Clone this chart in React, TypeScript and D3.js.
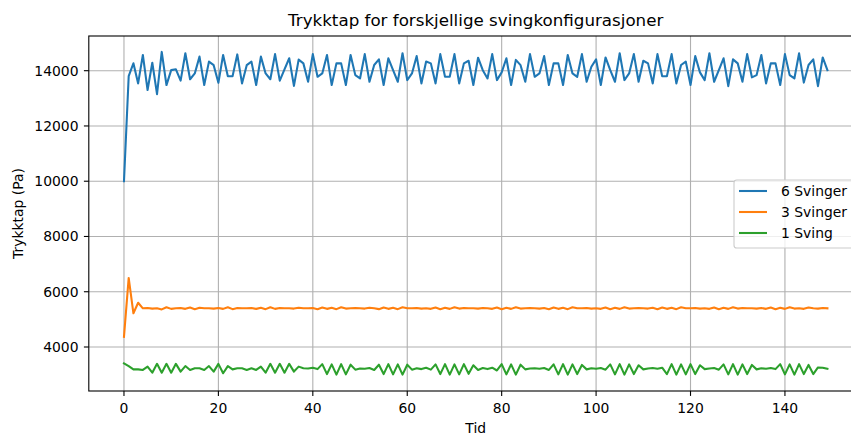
import React from "react";
import * as d3 from "d3";

const series6: number[] = [
  10000, 13800, 14270, 13540, 14570, 13300, 14290, 13150, 14680, 13480,
  14020, 14050, 13640, 14630, 13690, 13900, 14510, 13480, 14330, 14200,
  13560, 14570, 13800, 13800, 14590, 13540, 14200, 14330, 13480, 14510,
  13900, 13690, 14600, 13640, 14050, 14450, 13450, 14400, 14265, 13600,
  14600, 13780, 13900, 14570, 13480, 14265, 14265, 13480, 14570, 13840,
  13720, 14600, 13600, 14205, 14410, 13480, 14450, 14020, 13600, 14630,
  13660, 13900, 14530, 13540, 14330, 14265, 13540, 14600, 13780, 13780,
  14600, 13540, 14265, 14360, 13480, 14470, 14020, 13720, 14600, 13660,
  13940, 14450, 13480, 14390, 14200, 13600, 14600, 13780, 13900, 14530,
  13480, 14265, 14265, 13480, 14570, 13900, 13780, 14600, 13600, 14145,
  14410, 13480, 14480, 14020, 13600, 14630, 13660, 13900, 14600, 13600,
  14360, 14265, 13540, 14600, 13800, 13800, 14600, 13540, 14205, 14330,
  13480, 14530, 13940, 13660, 14630, 13600, 14020, 14450, 13440, 14410,
  14265, 13600, 14600, 13760, 13840, 14570, 13540, 14265, 14265, 13480,
  14600, 13840, 13720, 14630, 13570, 14205, 14410, 13440, 14480, 14020,
];

const series3: number[] = [
  4370, 6500, 5220, 5600, 5400, 5410, 5390, 5400, 5360, 5440,
  5380, 5400, 5410, 5380, 5430, 5370, 5420, 5400, 5400, 5390,
  5410, 5380, 5440, 5370, 5410, 5400, 5400, 5410, 5380, 5420,
  5370, 5440, 5380, 5410, 5400, 5400, 5390, 5420, 5400, 5400,
  5410, 5370, 5430, 5380, 5420, 5370, 5440, 5390, 5400, 5410,
  5400, 5390, 5420, 5400, 5370, 5430, 5380, 5420, 5370, 5440,
  5400, 5400, 5410, 5390, 5400, 5380, 5430, 5370, 5420, 5380,
  5440, 5390, 5410, 5400, 5400, 5390, 5410, 5400, 5380, 5430,
  5370, 5420, 5380, 5440, 5390, 5400, 5410, 5400, 5390, 5410,
  5370, 5430, 5380, 5420, 5370, 5440, 5400, 5400, 5410, 5390,
  5400, 5380, 5430, 5370, 5420, 5380, 5440, 5390, 5400, 5410,
  5400, 5390, 5420, 5370, 5430, 5380, 5420, 5370, 5440, 5400,
  5400, 5410, 5390, 5400, 5380, 5430, 5370, 5420, 5380, 5440,
  5390, 5410, 5400, 5400, 5390, 5410, 5380, 5430, 5370, 5420,
  5380, 5440, 5390, 5400, 5380, 5430, 5400, 5390, 5410, 5400,
];

const series1: number[] = [
  3410, 3310, 3190, 3190, 3170, 3290, 3070, 3390, 3070, 3390,
  3070, 3390, 3110, 3310, 3170, 3230, 3230, 3170, 3310, 3110,
  3390, 3050, 3310, 3190, 3230, 3230, 3170, 3230, 3170, 3290,
  3070, 3390, 3070, 3390, 3070, 3390, 3110, 3290, 3230, 3220,
  3250, 3200, 3380, 3020, 3370, 3000, 3380, 3010, 3360, 3180,
  3220, 3210, 3240, 3170, 3360, 3020, 3380, 3010, 3370, 3000,
  3360, 3180, 3230, 3200, 3250, 3180, 3370, 3020, 3380, 3000,
  3370, 3010, 3380, 3030, 3340, 3170, 3240, 3200, 3250, 3150,
  3380, 3010, 3370, 3000, 3360, 3190, 3220, 3230, 3210, 3240,
  3170, 3370, 3010, 3380, 3000, 3370, 3020, 3350, 3190, 3230,
  3210, 3240, 3180, 3370, 3010, 3380, 3000, 3370, 3020, 3340,
  3190, 3220, 3240, 3210, 3250, 3020, 3380, 3000, 3370, 3010,
  3380, 3020, 3340, 3200, 3220, 3240, 3180, 3370, 3010, 3380,
  3000, 3370, 3020, 3350, 3190, 3230, 3210, 3240, 3200, 3380,
  3010, 3370, 3000, 3380, 3020, 3350, 3020, 3260, 3250, 3210,
];

const seriesNames = ["6 Svinger", "3 Svinger", "1 Sving"];
const seriesColors = ["#1f77b4", "#ff7f0e", "#2ca02c"];
const xTicks = [0, 20, 40, 60, 80, 100, 120, 140];
const yTicks = [4000, 6000, 8000, 10000, 12000, 14000];

const W = 851;
const H = 435;
const FONT = "'DejaVu Sans', sans-serif";

export default function App() {
  const left = 88.8;
  const right = 862.6;
  const top = 36;
  const bottom = 391;

  const x = d3.scaleLinear().domain([-7.45, 156.45]).range([left, right]);
  const y = d3.scaleLinear().domain([2407.5, 15266.7]).range([bottom, 35.7]);

  const allSeries = [series6, series3, series1];
  const line = d3
    .line<number>()
    .x((_, i) => x(i))
    .y((d) => y(d));

  const legX = 734;
  const legY = 180;
  const rowYs = [191, 212, 233];

  return (
    <div style={{ position: "fixed", left: 0, top: 0, width: W, height: H, background: "#fff" }}>
      <svg width={W} height={H} style={{ display: "block" }} fontFamily={FONT}>
        <defs>
          <clipPath id="plotclip">
            <rect x={left} y={top} width={right - left} height={bottom - top} />
          </clipPath>
        </defs>
        <rect x={0} y={0} width={W} height={H} fill="#fff" />
        {/* grid */}
        {xTicks.map((t) => (
          <line key={"gx" + t} x1={x(t)} x2={x(t)} y1={top} y2={bottom} stroke="#b0b0b0" strokeWidth={1.1} />
        ))}
        {yTicks.map((t) => (
          <line key={"gy" + t} x1={left} x2={right} y1={y(t)} y2={y(t)} stroke="#b0b0b0" strokeWidth={1.1} />
        ))}
        {/* lines */}
        <g clipPath="url(#plotclip)">
          {allSeries.map((s, k) => (
            <path
              key={"s" + k}
              d={line(s) || ""}
              fill="none"
              stroke={seriesColors[k]}
              strokeWidth={2.08}
              strokeLinejoin="round"
              strokeLinecap="square"
            />
          ))}
        </g>
        {/* spines */}
        <rect x={left} y={top} width={right - left} height={bottom - top} fill="none" stroke="#000" strokeWidth={1.1} />
        {/* x ticks */}
        {xTicks.map((t) => (
          <g key={"xt" + t}>
            <line x1={x(t)} x2={x(t)} y1={bottom} y2={bottom + 4.9} stroke="#000" strokeWidth={1.1} />
            <text x={x(t)} y={412.5} textAnchor="middle" fontSize={13.9} fill="#000">
              {t}
            </text>
          </g>
        ))}
        {/* y ticks */}
        {yTicks.map((t) => (
          <g key={"yt" + t}>
            <line x1={left - 4.9} x2={left} y1={y(t)} y2={y(t)} stroke="#000" strokeWidth={1.1} />
            <text x={78.5} y={y(t)} dy="0.36em" textAnchor="end" fontSize={13.9} fill="#000">
              {t}
            </text>
          </g>
        ))}
        {/* labels */}
        <text x={(left + right) / 2} y={25.8} textAnchor="middle" fontSize={16.7} fill="#000">
          Trykktap for forskjellige svingkonfigurasjoner
        </text>
        <text x={(left + right) / 2} y={433} textAnchor="middle" fontSize={13.9} fill="#000">
          Tid
        </text>
        <text
          transform={`translate(23, ${(top + bottom) / 2}) rotate(-90)`}
          textAnchor="middle"
          fontSize={13.9}
          fill="#000"
        >
          Trykktap (Pa)
        </text>
        {/* legend */}
        <rect
          x={legX}
          y={legY}
          width={122}
          height={68}
          rx={2.8}
          fill="#fff"
          fillOpacity={0.8}
          stroke="#cccccc"
          strokeWidth={1.1}
        />
        {seriesNames.map((n, k) => (
          <g key={"lg" + k}>
            <line x1={739} x2={767} y1={rowYs[k]} y2={rowYs[k]} stroke={seriesColors[k]} strokeWidth={2.08} />
            <text x={781} y={rowYs[k]} dy="0.36em" fontSize={13.9} fill="#000">
              {n}
            </text>
          </g>
        ))}
      </svg>
    </div>
  );
}
